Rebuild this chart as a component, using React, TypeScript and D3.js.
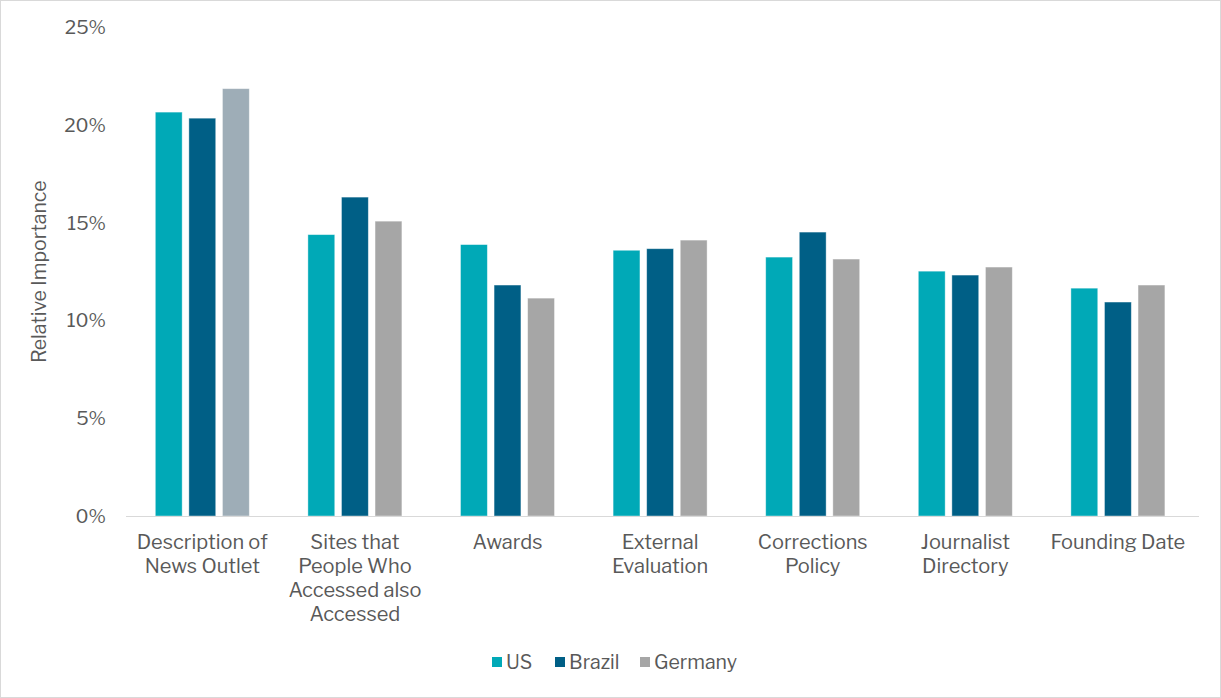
import React from "react";
import * as d3 from "d3";

const categories = [
  ["Description of", "News Outlet"],
  ["Sites that", "People Who", "Accessed also", "Accessed"],
  ["Awards"],
  ["External", "Evaluation"],
  ["Corrections", "Policy"],
  ["Journalist", "Directory"],
  ["Founding Date"],
];
const seriesNames = ["US", "Brazil", "Germany"];
const usValues = [20.67, 14.4, 13.89, 13.6, 13.25, 12.53, 11.66];
const brazilValues = [20.36, 16.32, 11.82, 13.68, 14.53, 12.33, 10.95];
const germanyValues = [21.87, 15.09, 11.15, 14.12, 13.15, 12.74, 11.82];
const yTicks = [0, 5, 10, 15, 20, 25];

const colors = ["#00A9B7", "#005F86", "#A6A6A6"];
const highlightGermany = "#9EADB7";

export default function App() {
  const W = 1221, H = 698;
  const left = 126, right = 1199, top = 27.5, bottom = 516;
  const x = d3.scaleBand<number>().domain(d3.range(categories.length)).range([left, left + 152.6 * 7]);
  const inner = d3.scaleBand<number>().domain([0, 1, 2]).range([0, 94]).paddingInner(0.2);
  const y = d3.scaleLinear().domain([0, 25]).range([bottom, top]);
  const series = [usValues, brazilValues, germanyValues];
  const font = "'Libre Franklin', 'Open Sans', 'Liberation Sans', sans-serif";
  const textColor = "#595959";
  const legendX = [492, 555, 640];
  return (
    <svg width={W} height={H} style={{ position: "absolute", left: 0, top: 0, fontFamily: font }}>
      <rect x={0.5} y={0.5} width={W - 1} height={H - 1} fill="#fff" stroke="#D9D9D9" />
      {yTicks.map((t) => (
        <text key={t} x={106} y={y(t)} dy="0.35em" textAnchor="end" fontSize={19} fill={textColor}>
          {t}%
        </text>
      ))}
      <text
        transform={`translate(46,${(top + bottom) / 2}) rotate(-90)`}
        textAnchor="middle"
        fontSize={19.5}
        fill={textColor}
      >
        Relative Importance
      </text>
      {categories.map((c, i) => {
        const gx = x(i)! + (x.bandwidth() - 94) / 2;
        return (
          <g key={i}>
            {series.map((vals, s) => (
              <rect
                key={s}
                x={gx + inner(s)!}
                y={y(vals[i])}
                width={inner.bandwidth()}
                height={bottom - y(vals[i])}
                fill={i === 0 && s === 2 ? highlightGermany : colors[s]}
                stroke="#fff"
                strokeOpacity={0.5}
                strokeWidth={0.8}
              />
            ))}
            {c.map((line, k) => (
              <text
                key={k}
                x={x(i)! + x.bandwidth() / 2}
                y={549 + k * 24}
                textAnchor="middle"
                fontSize={20}
                fill={textColor}
              >
                {line}
              </text>
            ))}
          </g>
        );
      })}
      <line x1={left} x2={right} y1={bottom + 0.5} y2={bottom + 0.5} stroke="#D9D9D9" strokeWidth={1.2} />
      {seriesNames.map((n, s) => (
        <g key={n} transform={`translate(${legendX[s]},662)`}>
          <rect x={0} y={-5} width={10} height={10} fill={colors[s]} />
          <text x={14} y={0} dy="0.35em" fontSize={19.5} fill={textColor}>
            {n}
          </text>
        </g>
      ))}
    </svg>
  );
}
